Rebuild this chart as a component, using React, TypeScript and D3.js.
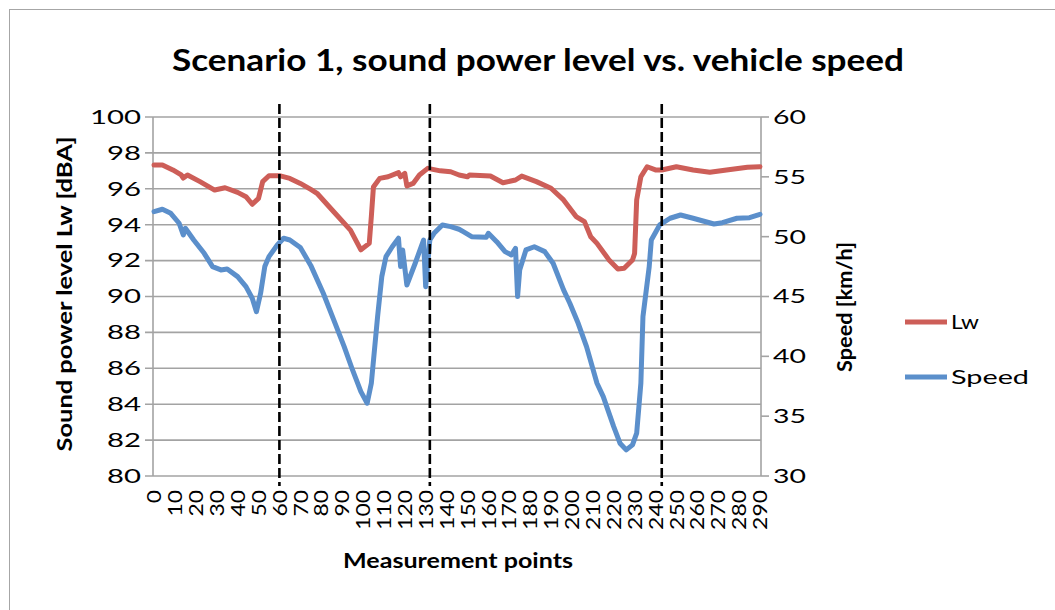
import React from "react";
import * as d3 from "d3";

// ---- data ----
const categories: number[] = d3.range(0, 291); // measurement points 0..290
const xTickLabels: number[] = d3.range(0, 291, 10);
const lwTicks: number[] = [80, 82, 84, 86, 88, 90, 92, 94, 96, 98, 100];
const speedTicks: number[] = [30, 35, 40, 45, 50, 55, 60];
const markerPoints: number[] = [60, 132, 243];

// [measurement point, Lw dBA]
const lwSeries: [number, number][] = [
  [0, 97.33], [4, 97.33], [9, 97.05], [13, 96.77], [14, 96.6], [16, 96.77], [22, 96.4],
  [29, 95.93], [34, 96.06], [40, 95.8], [44, 95.56], [47, 95.14], [50, 95.47], [52, 96.4],
  [55, 96.73], [60, 96.73], [65, 96.58], [70, 96.3], [75, 95.97], [78, 95.75], [86, 94.72],
  [94, 93.7], [99, 92.6], [103, 92.96], [104, 94.45], [105, 96.1], [108, 96.58], [112, 96.67],
  [117, 96.9], [118, 96.67], [120, 96.86], [121, 96.16], [124, 96.3], [127, 96.77],
  [131, 97.14], [137, 97.0], [142, 96.95], [146, 96.77], [150, 96.67], [151, 96.77],
  [161, 96.71], [167, 96.34], [173, 96.49], [176, 96.71], [183, 96.4], [190, 96.03],
  [196, 95.38], [202, 94.45], [206, 94.17], [209, 93.33], [212, 92.96], [218, 92.0],
  [222, 91.53], [225, 91.57], [229, 92.03], [230, 92.4], [231, 95.38], [233, 96.67],
  [236, 97.23], [240, 97.05], [243, 97.05], [250, 97.23], [258, 97.05], [266, 96.92],
  [274, 97.05], [284, 97.2], [290, 97.23],
];

// [measurement point, speed km/h]
const speedSeries: [number, number][] = [
  [0, 52.09], [4, 52.29], [8, 51.95], [12, 51.12], [14, 50.14], [15, 50.7], [19, 49.72],
  [24, 48.61], [28, 47.5], [32, 47.22], [35, 47.3], [40, 46.66], [44, 45.82], [47, 44.85],
  [49, 43.73], [51, 45.27], [53, 47.5], [55, 48.33], [59, 49.31], [62, 49.87], [65, 49.72],
  [70, 49.1], [75, 47.6], [81, 45.27], [86, 43.04], [91, 40.81], [95, 38.86], [99, 37.05],
  [102, 36.08], [104, 37.75], [107, 43.32], [109, 46.66], [111, 48.33], [114, 49.16],
  [117, 49.87], [118, 47.5], [119, 48.89], [121, 45.96], [125, 47.78], [129, 49.72],
  [130, 45.82], [132, 49.72], [134, 50.28], [138, 50.98], [142, 50.84], [146, 50.62],
  [148, 50.42], [152, 50.0], [159, 49.95], [160, 50.28], [164, 49.58], [168, 48.75],
  [171, 48.47], [173, 49.03], [174, 44.99], [175, 47.22], [178, 48.89], [182, 49.16],
  [187, 48.75], [191, 47.78], [196, 45.55], [199, 44.44], [203, 42.76], [207, 40.81],
  [212, 37.75], [215, 36.63], [220, 34.13], [223, 32.74], [226, 32.18], [229, 32.6],
  [231, 33.58], [233, 37.75], [234, 43.32], [237, 47.5], [238, 49.72], [242, 50.98],
  [247, 51.54], [252, 51.81], [258, 51.54], [268, 51.06], [272, 51.17], [279, 51.54],
  [285, 51.59], [290, 51.87],
];

const LW_COLOR = "#CD5E58";
const SPEED_COLOR = "#5B8FCB";
const GRID = "#A3A3A3";
const FONT = "Lato, 'Open Sans', 'Liberation Sans', sans-serif";

export default function App() {
  const W = 1055, H = 610;
  const left = 153, right = 761, top = 117, bottom = 476;

  const x = d3.scaleLinear()
    .domain([categories[0] - 0.5, categories[categories.length - 1] + 0.5])
    .range([left, right]);
  const yL = d3.scaleLinear().domain([80, 100]).range([bottom, top]);
  const yR = d3.scaleLinear().domain([30, 60]).range([bottom, top]);

  const lwLine = d3.line<[number, number]>()
    .x(d => x(d[0])).y(d => yL(d[1])).curve(d3.curveLinear);
  const spLine = d3.line<[number, number]>()
    .x(d => x(d[0])).y(d => yR(d[1])).curve(d3.curveLinear);

  return (
    <svg width={W} height={H} style={{ position: "absolute", left: 0, top: 0, background: "#fff" }}
      fontFamily={FONT}>
      <rect x={0} y={0} width={W} height={H} fill="#fff" />
      <rect x={9.5} y={9.5} width={W + 50} height={H + 50} fill="none" stroke="#A6A6A6" strokeWidth={1} />

      {/* title */}
      <text x={538} y={71} textAnchor="middle" fontSize={30} fontWeight="bold" fill="#000"
        textLength={732} lengthAdjust="spacingAndGlyphs">
        Scenario 1, sound power level vs. vehicle speed
      </text>

      {/* gridlines + left ticks */}
      {lwTicks.map(t => (
        <line key={"g" + t} x1={left - 8} x2={right} y1={yL(t)} y2={yL(t)} stroke={GRID} strokeWidth={1.6} />
      ))}
      {/* axes */}
      <line x1={left} x2={left} y1={top} y2={bottom} stroke={GRID} strokeWidth={1.6} />
      <line x1={right} x2={right} y1={top} y2={bottom} stroke={GRID} strokeWidth={1.6} />
      {speedTicks.map(t => (
        <line key={"rt" + t} x1={right} x2={right + 8} y1={yR(t)} y2={yR(t)} stroke={GRID} strokeWidth={1.6} />
      ))}

      {/* left tick labels */}
      {lwTicks.map(t => (
        <text key={"l" + t} x={141} y={yL(t)} dy="0.36em" textAnchor="end" fontSize={19} fill="#000"
          textLength={String(t).length * 17} lengthAdjust="spacingAndGlyphs">{t}</text>
      ))}
      {/* right tick labels */}
      {speedTicks.map(t => (
        <text key={"r" + t} x={773} y={yR(t)} dy="0.36em" textAnchor="start" fontSize={19} fill="#000"
          textLength={String(t).length * 16.5} lengthAdjust="spacingAndGlyphs">{t}</text>
      ))}
      {/* x tick labels (rotated) */}
      {xTickLabels.map(t => (
        <text key={"x" + t} transform={`translate(${x(t)},490) rotate(-90)`} dy="0.36em" textAnchor="end"
          fontSize={20} fill="#000" textLength={String(t).length * 13.3} lengthAdjust="spacingAndGlyphs">{t}</text>
      ))}

      {/* series */}
      <path d={lwLine(lwSeries) || ""} fill="none" stroke={LW_COLOR} strokeWidth={5}
        strokeLinejoin="round" strokeLinecap="round" />
      <path d={spLine(speedSeries) || ""} fill="none" stroke={SPEED_COLOR} strokeWidth={5}
        strokeLinejoin="round" strokeLinecap="round" />

      {/* dashed markers */}
      {markerPoints.map(m => (
        <line key={"m" + m} x1={x(m)} x2={x(m)} y1={104} y2={486} stroke="#000" strokeWidth={2.6}
          strokeDasharray="10 4" />
      ))}

      {/* axis titles */}
      <text transform="translate(72,294) rotate(-90)" textAnchor="middle" fontSize={20} fontWeight="bold"
        fill="#000" textLength={315} lengthAdjust="spacingAndGlyphs">Sound power level Lw [dBA]</text>
      <text transform="translate(852,307) rotate(-90)" textAnchor="middle" fontSize={20} fontWeight="bold"
        fill="#000" textLength={130} lengthAdjust="spacingAndGlyphs">Speed [km/h]</text>
      <text x={458} y={568} textAnchor="middle" fontSize={20} fontWeight="bold" fill="#000"
        textLength={230} lengthAdjust="spacingAndGlyphs">Measurement points</text>

      {/* legend */}
      <line x1={905} x2={947} y1={322} y2={322} stroke={LW_COLOR} strokeWidth={5} />
      <text x={951} y={322} dy="0.36em" fontSize={20} fill="#000" textLength={28} lengthAdjust="spacingAndGlyphs">Lw</text>
      <line x1={905} x2={947} y1={377} y2={377} stroke={SPEED_COLOR} strokeWidth={5} />
      <text x={951} y={377} dy="0.36em" fontSize={20} fill="#000" textLength={78} lengthAdjust="spacingAndGlyphs">Speed</text>
    </svg>
  );
}
